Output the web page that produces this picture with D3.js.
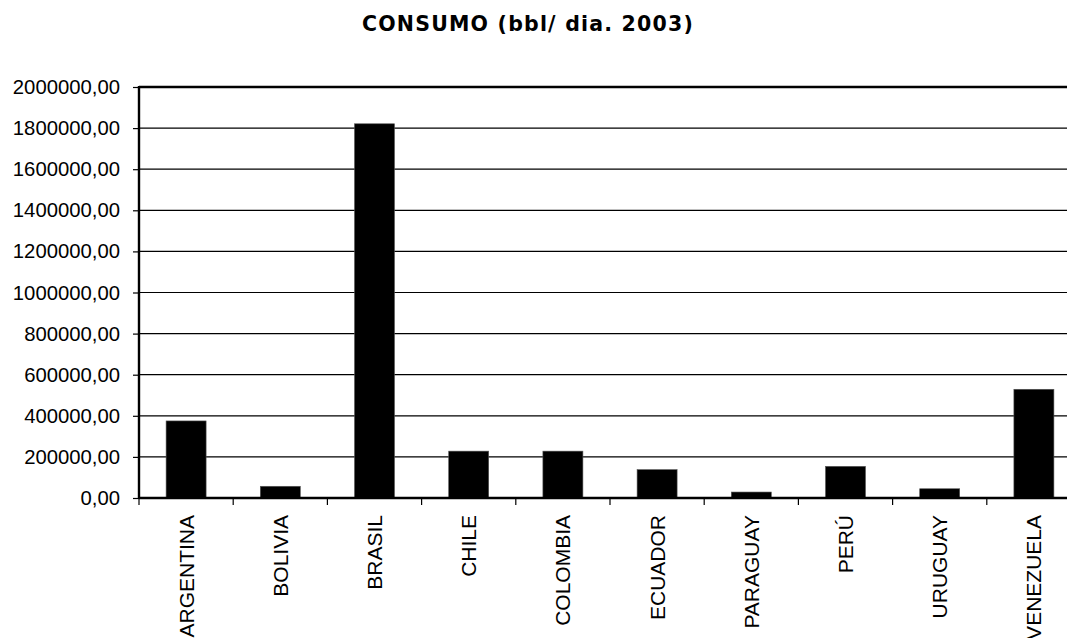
<!DOCTYPE html>
<html><head><meta charset="utf-8">
<script src="https://cdn.jsdelivr.net/npm/d3@7"></script>
<style>body{margin:0;background:#fff}svg{display:block}</style>
</head><body>
<svg id="c" width="1067" height="638"></svg>
<script>
const categories = ["ARGENTINA","BOLIVIA","BRASIL","CHILE","COLOMBIA","ECUADOR","PARAGUAY","PERÚ","URUGUAY","VENEZUELA"];
const values = [375000, 57000, 1821000, 228000, 228000, 138000, 29000, 154000, 45000, 529000];
const yTicks = [0,200000,400000,600000,800000,1000000,1200000,1400000,1600000,1800000,2000000];
const title = "CONSUMO (bbl/ dia. 2003)";

(function(){
const svg = d3.select("#c");
const pL = 139, pR = 1081, pT = 87, pB = 498;
const x = d3.scaleBand().domain(categories).range([pL, pR]).paddingInner(0).paddingOuter(0);
const y = d3.scaleLinear().domain([0, 2000000]).range([pB, pT]);
const fmt = v => d3.format(".2f")(v).replace(".", ",");

svg.append("text").attr("x", 528).attr("y", 31).attr("text-anchor","middle")
  .attr("font-family","DejaVu Sans").attr("font-weight","bold").attr("font-size",20.5)
  .attr("letter-spacing","1.2px").attr("fill","#000").text(title);

// gridlines
svg.append("g").selectAll("line").data(yTicks.filter(d=>d>0 && d<2000000)).join("line")
  .attr("x1", pL).attr("x2", pR).attr("y1", d=>y(d)).attr("y2", d=>y(d))
  .attr("stroke","#000").attr("stroke-width",1.2);

// bars
const bw = 40;
svg.append("g").selectAll("rect").data(values).join("rect")
  .attr("x",(d,i)=>x(categories[i]) + x.bandwidth()/2 - bw/2)
  .attr("width", bw)
  .attr("y", d=>y(d)).attr("height", d=>pB - y(d))
  .attr("fill","#000").attr("stroke","#555").attr("stroke-width",0.6);

// y axis
const yAxis = d3.axisLeft(y).tickValues(yTicks).tickSize(6).tickFormat(fmt);
const gy = svg.append("g").attr("transform",`translate(${pL},0)`).call(yAxis);
gy.select(".domain").remove();
gy.selectAll(".tick line").attr("stroke","#000").attr("stroke-width",1.2);
gy.selectAll(".tick text").attr("x",-19).attr("font-family","Liberation Sans, Arial").attr("font-size",20.3).attr("fill","#000");

// x axis
const xAxis = d3.axisBottom(x).tickSize(0).tickFormat(d=>d);
const gx = svg.append("g").attr("transform",`translate(0,${pB})`).call(xAxis);
gx.select(".domain").remove();
gx.selectAll(".tick text").attr("transform","rotate(-90)").attr("x",-17).attr("y",0).attr("dy","0.36em")
  .attr("text-anchor","end").attr("font-family","Liberation Sans, Arial").attr("font-size",21).attr("fill","#000");
// category boundary ticks
svg.append("g").selectAll("line").data(categories).join("line")
  .attr("x1", d=>x(d)).attr("x2", d=>x(d)).attr("y1", pB).attr("y2", pB+7)
  .attr("stroke","#000").attr("stroke-width",1.2);

// frame lines
svg.append("line").attr("x1",pL).attr("x2",pR).attr("y1",pT).attr("y2",pT).attr("stroke","#000").attr("stroke-width",2.4);
svg.append("line").attr("x1",pL).attr("x2",pR).attr("y1",pB).attr("y2",pB).attr("stroke","#000").attr("stroke-width",2.4);
svg.append("line").attr("x1",pL).attr("x2",pL).attr("y1",pT-1).attr("y2",pB+1).attr("stroke","#000").attr("stroke-width",2.4);
})();
</script>
</body></html>
